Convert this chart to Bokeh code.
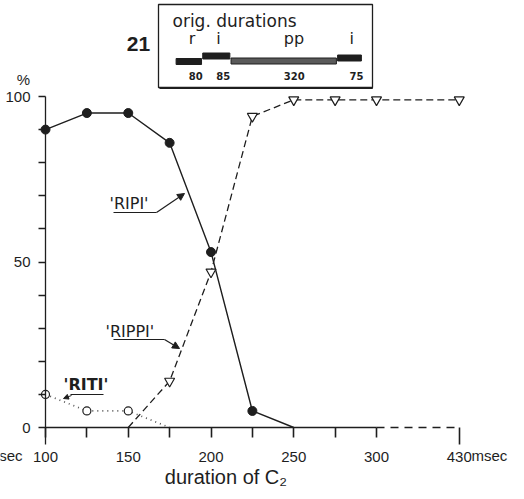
import numpy as np
from bokeh.plotting import figure
from bokeh.models import LinearAxis, FixedTicker, Label, Arrow, NormalHead, Range1d
from bokeh.embed import file_html
from bokeh.resources import INLINE

# ---------------- data ----------------
ripi_x = [100, 125, 150, 175, 200, 225, 250]
ripi_y = [90, 95, 95, 86, 53, 5, 0]
rippi_x = [150, 175, 200, 225, 250, 275, 300, 430]
rippi_y = [0, 14, 47, 94, 99, 99, 99, 99]
riti_x = [100, 125, 150, 175]
riti_y = [10, 5, 5, 0]

x_major = [100, 150, 200, 250, 300]
x_minor = [125, 175, 225, 275]
x_far = [430]
y_major = [0, 50, 100]
y_minor = [10, 20, 30, 40, 60, 70, 80, 90]

orig_segments = ["r", "i", "pp", "i"]
orig_durations = [80, 85, 320, 75]

# broken x axis: values beyond 300 are placed just after the break
BREAK_AT, BREAK_POS = 300, 350
def xpos(d):
    return d if d <= BREAK_AT else BREAK_POS

# ---------------- geometry ----------------
W, H = 516, 491
SX, SY = 1.655, 3.31              # px per x unit / per y unit
X100_PX, Y0_PX = 45, 427          # px of x=100 / y=0
def fx(X):
    return 100 + (X - X100_PX) / SX
def fy(Y):
    return (Y0_PX - Y) / SY

p = figure(width=W, height=H, output_backend="svg", toolbar_location=None,
           x_range=Range1d(fx(0), fx(W)),
           y_range=Range1d(fy(H), fy(0)),
           x_axis_location=None, y_axis_location=None,
           min_border=0, outline_line_color=None)
p.grid.visible = False

INK = "#1e1e1e"
TICK_FONT = "Liberation Sans"

# ---------------- axes ----------------
yax = LinearAxis(fixed_location=100, bounds=(-5, 100),
                 ticker=FixedTicker(ticks=y_major, minor_ticks=y_minor),
                 major_tick_out=7, major_tick_in=0, minor_tick_out=7, minor_tick_in=0,
                 major_label_standoff=8, axis_line_width=1.3, axis_line_color=INK,
                 major_tick_line_color=INK, minor_tick_line_color=INK,
                 major_tick_line_width=1.3, minor_tick_line_width=1.3,
                 major_label_text_font=TICK_FONT, major_label_text_font_size="15px",
                 major_label_text_color=INK)
p.add_layout(yax, "left")

xax = LinearAxis(fixed_location=0, bounds=(100, 300),
                 ticker=FixedTicker(ticks=x_major, minor_ticks=x_minor),
                 major_tick_out=10, major_tick_in=0, minor_tick_out=10, minor_tick_in=0,
                 major_label_standoff=14, axis_line_width=1.3, axis_line_color=INK,
                 major_tick_line_color=INK, minor_tick_line_color=INK,
                 major_tick_line_width=1.6, minor_tick_line_width=1.6,
                 major_label_text_font=TICK_FONT, major_label_text_font_size="15px",
                 major_label_text_color=INK)
p.add_layout(xax, "below")

far_ticks = [xpos(d) for d in x_far]
xax2 = LinearAxis(fixed_location=0, bounds=(BREAK_AT, BREAK_POS),
                  ticker=FixedTicker(ticks=far_ticks, minor_ticks=[]),
                  major_label_overrides={t: str(d) for t, d in zip(far_ticks, x_far)},
                  major_tick_out=17, major_tick_in=0, major_label_standoff=7,
                  axis_line_width=1.3, axis_line_color=INK, axis_line_dash="8 6",
                  major_tick_line_color=INK, major_tick_line_width=1.6,
                  major_label_text_font=TICK_FONT, major_label_text_font_size="15px",
                  major_label_text_color=INK)
p.add_layout(xax2, "below")

# ---------------- series ----------------
def pos(xs):
    return [xpos(v) for v in xs]

p.line(pos(ripi_x), ripi_y, line_color=INK, line_width=1.4)
p.line(pos(rippi_x), rippi_y, line_color=INK, line_width=1.3, line_dash="7 4")
p.line(pos(riti_x), riti_y, line_color="#555555", line_width=1.7, line_dash="1 4")

def nz(xs, ys):
    pts = [(xpos(a), b) for a, b in zip(xs, ys) if b > 0]
    return [a for a, _ in pts], [b for _, b in pts]

mx, my = nz(ripi_x, ripi_y)
p.scatter(mx, my, marker="circle", size=9, fill_color=INK, line_color=INK)
mx, my = nz(rippi_x, rippi_y)
p.scatter(mx, my, marker="inverted_triangle", size=10, fill_color="white",
          line_color=INK, line_width=1.2)
mx, my = nz(riti_x, riti_y)
p.scatter(mx, my, marker="circle", size=8, fill_color="white",
          line_color=INK, line_width=1.2)

# ---------------- curve labels ----------------
LAB_FONT = "DejaVu Sans"
def label(X, Y, text, size="15px", font=LAB_FONT, align="left", style="normal",
          baseline="middle"):
    p.add_layout(Label(x=fx(X), y=fy(Y), text=text, text_font=font,
                       text_font_size=size, text_align=align, text_baseline=baseline,
                       text_font_style=style, text_color=INK))

label(109, 203, "'RIPI'", size="16px")
p.line([fx(113), fx(156)], [fy(212), fy(212)], line_color=INK, line_width=1.2)
p.add_layout(Arrow(end=NormalHead(size=7, fill_color=INK, line_color=INK),
                   x_start=fx(156), y_start=fy(212), x_end=fx(184), y_end=fy(193),
                   line_color=INK, line_width=1.2))

label(105, 331, "'RIPPI'", size="16px")
p.line([fx(113), fx(164)], [fy(339), fy(339)], line_color=INK, line_width=1.2)
p.add_layout(Arrow(end=NormalHead(size=7, fill_color=INK, line_color=INK),
                   x_start=fx(164), y_start=fy(339), x_end=fx(179), y_end=fy(348),
                   line_color=INK, line_width=1.2))

label(63, 384, "'RITI'", size="16px", style="bold")
p.line([fx(70), fx(103)], [fy(394), fy(394)], line_color=INK, line_width=1.2)
p.add_layout(Arrow(end=NormalHead(size=5, fill_color=INK, line_color=INK),
                   x_start=fx(71), y_start=fy(395), x_end=fx(63), y_end=fy(398),
                   line_color=INK, line_width=1.0))

# ---------------- axis texts ----------------
label(23, 79, "%", size="15px", font=TICK_FONT, align="center")
label(22, 455, "sec", size="15px", font=TICK_FONT, align="right")
label(471, 455, "msec", size="15px", font=TICK_FONT)
label(231, 476, "duration  of  C\u2082", size="20px", font=TICK_FONT, align="center")

# ---------------- inset: original durations ----------------
p.quad(left=fx(158), right=fx(372), top=fy(4), bottom=fy(87),
       fill_color="white", line_color=INK, line_width=1.3)
p.line([fx(159), fx(372), fx(372)], [fy(88), fy(88), fy(5)],
       line_color=INK, line_width=1.0)
label(138, 43, "21", size="21px", font=TICK_FONT, align="center", style="bold")
label(172, 20, "orig. durations", size="17px")

INSET_X0, INSET_PX_PER_MS = 175, 0.333
cum = np.cumsum([0] + orig_durations)
seg_l = [INSET_X0 + c * INSET_PX_PER_MS + 0.6 for c in cum[:-1]]
seg_r = [INSET_X0 + c * INSET_PX_PER_MS - 0.6 for c in cum[1:]]
seg_mid = [(a + b) / 2 for a, b in zip(seg_l, seg_r)]
seg_level = [61, 55.5, 60.5, 57.5]
seg_fill = [INK, INK, "#5a5a5a", INK]
p.quad(left=[fx(a) for a in seg_l], right=[fx(b) for b in seg_r],
       top=[fy(y - 3) for y in seg_level], bottom=[fy(y + 3) for y in seg_level],
       fill_color=seg_fill, line_color=INK, line_width=1)
for name, dur, mid in zip(orig_segments, orig_durations, seg_mid):
    label(mid, 38, name, size="16px")
    label(mid, 75, str(dur), size="10px", style="bold")

open("out.html", "w").write(file_html(p, INLINE))
